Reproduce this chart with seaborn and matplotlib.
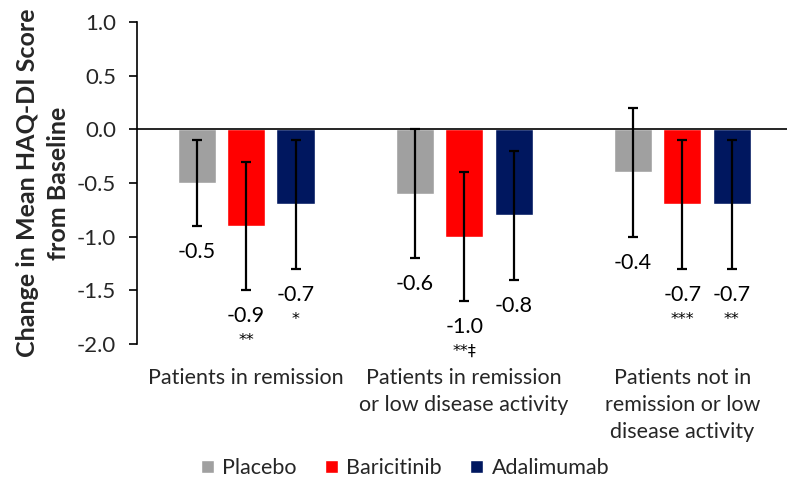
import matplotlib
matplotlib.use("Agg")
import matplotlib.pyplot as plt
import seaborn as sns
import pandas as pd
import numpy as np

# ---- data ----
groups = ["Patients in remission",
          "Patients in remission\nor low disease activity",
          "Patients not in\nremission or low\ndisease activity"]
treatments = ["Placebo", "Baricitinib", "Adalimumab"]
placebo = [-0.5, -0.6, -0.4]
baricitinib = [-0.9, -1.0, -0.7]
adalimumab = [-0.7, -0.8, -0.7]
placebo_err = [0.4, 0.6, 0.6]
baricitinib_err = [0.6, 0.6, 0.6]
adalimumab_err = [0.6, 0.6, 0.6]
placebo_sig = ["", "", ""]
baricitinib_sig = ["**", "**\u2021", "***"]
adalimumab_sig = ["*", "", "**"]
colors = ["#A0A0A0", "#FF0000", "#00175F"]
yticks = [-2.0, -1.5, -1.0, -0.5, 0.0, 0.5, 1.0]

values = {"Placebo": placebo, "Baricitinib": baricitinib, "Adalimumab": adalimumab}
errs = {"Placebo": placebo_err, "Baricitinib": baricitinib_err, "Adalimumab": adalimumab_err}
sigs = {"Placebo": placebo_sig, "Baricitinib": baricitinib_sig, "Adalimumab": adalimumab_sig}

rows = []
for t in treatments:
    for g, v in zip(groups, values[t]):
        rows.append({"group": g, "treatment": t, "value": v})
df = pd.DataFrame(rows)

sns.set_style("white")
plt.rcParams["font.family"] = ["Lato", "DejaVu Sans"]
plt.rcParams["axes.unicode_minus"] = False

fig = plt.figure(figsize=(7.87, 4.84), dpi=100)
ax = fig.add_axes([137/787, 1-344/484, 650/787, (344-22)/484])

sns.barplot(data=df, x="group", y="value", hue="treatment", order=groups,
            hue_order=treatments, palette=colors, width=0.68, gap=0.23,
            errorbar=None, saturation=1, ax=ax)

for t, cont in zip(treatments, ax.containers):
    for i, bar in enumerate(cont):
        xc = bar.get_x() + bar.get_width() / 2
        v = values[t][i]
        e = errs[t][i]
        ax.errorbar(xc, v, yerr=e, fmt="none", ecolor="black",
                    elinewidth=1.6, capsize=3.5, capthick=1.6, zorder=4)
        lo = v - e
        ax.annotate(f"{v:.1f}", (xc, lo), xytext=(0, -26), textcoords="offset pixels",
                    ha="center", va="center", fontsize=15.5, color="black")
        if sigs[t][i]:
            ax.annotate(sigs[t][i], (xc, lo), xytext=(0, -55), textcoords="offset pixels",
                        ha="center", va="baseline", fontsize=11.5, color="black",
                        family=["DejaVu Sans"])

ax.axhline(0, color="black", lw=1.2, zorder=3)
ax.set_ylim(-2.0, 1.0)
ax.set_xlim(-0.5, 2.48)
ax.set_yticks(yticks)
ax.set_yticklabels([f"{t:.1f}" for t in yticks], fontsize=16)
ax.tick_params(axis="y", direction="out", length=6, width=1.2, color="black", pad=9, left=True)
ax.tick_params(axis="x", length=0, pad=17, labelsize=15.5)
for lbl in ax.get_xticklabels():
    lbl.set_linespacing(1.45)
for s in ["top", "right", "bottom"]:
    ax.spines[s].set_visible(False)
ax.spines["left"].set_color("black")
ax.spines["left"].set_linewidth(1.2)
ax.set_xlabel("")
ax.set_ylabel("Change in Mean HAQ-DI Score\nfrom Baseline", fontsize=18,
              fontweight="bold", linespacing=1.4)
ax.yaxis.set_label_coords((70-137)/650, 0.5)

handles, labels = ax.get_legend_handles_labels()
ax.legend(handles, labels, loc="center", bbox_to_anchor=(405/787, 1-468/484),
          bbox_transform=fig.transFigure, ncol=3, frameon=False, fontsize=15.5,
          handlelength=0.6, handleheight=0.6, handletextpad=0.4, columnspacing=1.3)

fig.savefig("out.png", dpi=100)
